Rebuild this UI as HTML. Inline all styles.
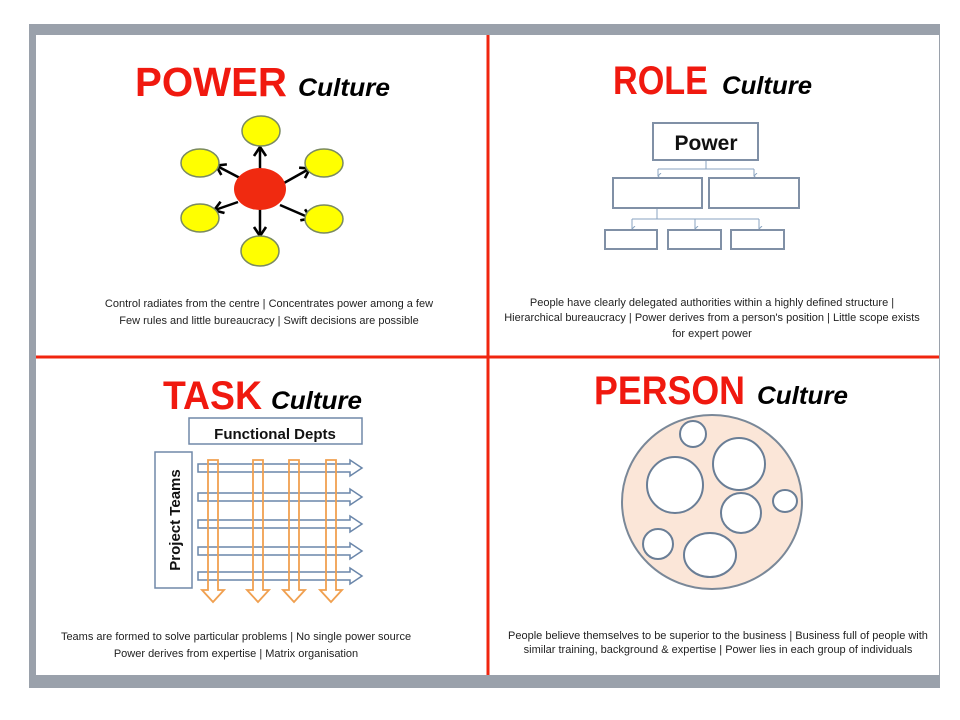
<!DOCTYPE html>
<html><head><meta charset="utf-8"><style>
html,body{margin:0;padding:0;background:#fff;width:960px;height:720px;overflow:hidden}
svg{display:block}
.t{font-family:"Liberation Sans",sans-serif;font-size:11px;fill:#222;text-anchor:middle}
.big{font-family:"Liberation Sans",sans-serif;font-weight:bold;fill:#f0190f}
.cul{font-family:"Liberation Sans",sans-serif;font-weight:bold;font-style:italic;fill:#000}
</style></head><body>
<svg width="960" height="720" viewBox="0 0 960 720" xmlns="http://www.w3.org/2000/svg">
<defs>
<marker id="ah" markerWidth="14" markerHeight="14" refX="9" refY="7" orient="auto" markerUnits="userSpaceOnUse" viewBox="0 0 14 14">
<path d="M1,1 L10,7 L1,13" fill="none" stroke="#000" stroke-width="2.6"/></marker>
<marker id="sa" markerWidth="6" markerHeight="6" refX="3" refY="5" orient="auto" markerUnits="userSpaceOnUse"><path d="M0,2 L3,5 L6,2" fill="none" stroke="#8aa3c0" stroke-width="1"/></marker>
</defs>
<!-- frame -->
<rect x="29" y="24" width="911" height="664" fill="#9aa1ab"/>
<rect x="36" y="35" width="903" height="640" fill="#fff"/>
<line x1="488" y1="35" x2="488" y2="675" stroke="#f0250f" stroke-width="3"/>
<line x1="36" y1="357" x2="939" y2="357" stroke="#f0250f" stroke-width="3"/>

<!-- POWER -->
<text x="135" y="96" class="big" font-size="41" textLength="152" lengthAdjust="spacingAndGlyphs">POWER</text>
<text x="298" y="96" class="cul" font-size="25" textLength="92" lengthAdjust="spacingAndGlyphs">Culture</text>
<g stroke="#000" stroke-width="2.5" marker-end="url(#ah)">
<line x1="260" y1="170" x2="260" y2="148"/>
<line x1="260" y1="209" x2="260" y2="235"/>
<line x1="240" y1="178" x2="217" y2="166"/>
<line x1="284" y1="183" x2="309" y2="169"/>
<line x1="238" y1="202" x2="215" y2="210"/>
<line x1="280" y1="205" x2="310" y2="218"/>
</g>
<g fill="#ffff00" stroke="#7a8a60" stroke-width="1.5">
<ellipse cx="261" cy="131" rx="19" ry="15"/>
<ellipse cx="200" cy="163" rx="19" ry="14"/>
<ellipse cx="324" cy="163" rx="19" ry="14"/>
<ellipse cx="200" cy="218" rx="19" ry="14"/>
<ellipse cx="324" cy="219" rx="19" ry="14"/>
<ellipse cx="260" cy="251" rx="19" ry="15"/>
</g>
<ellipse cx="260" cy="189" rx="26" ry="21" fill="#f02a10"/>
<text class="t" x="269" y="307">Control radiates from the centre | Concentrates power among a few</text>
<text class="t" x="269" y="324">Few rules and little bureaucracy | Swift decisions are possible</text>

<!-- ROLE -->
<text x="613" y="94" class="big" font-size="40" textLength="95" lengthAdjust="spacingAndGlyphs">ROLE</text>
<text x="722" y="94" class="cul" font-size="25" textLength="90" lengthAdjust="spacingAndGlyphs">Culture</text>
<g fill="none" stroke="#8aa3c0" stroke-width="1">
<path d="M706,160 V169 M658,169 H754"/>
<line x1="658" y1="169" x2="658" y2="176" marker-end="url(#sa)"/>
<line x1="754" y1="169" x2="754" y2="176" marker-end="url(#sa)"/>
<path d="M657,209 V219 M632,219 H759"/>
<line x1="632" y1="219" x2="632" y2="229" marker-end="url(#sa)"/>
<line x1="695" y1="219" x2="695" y2="229" marker-end="url(#sa)"/>
<line x1="759" y1="219" x2="759" y2="229" marker-end="url(#sa)"/>
</g>
<g fill="#fff" stroke="#8090a6" stroke-width="2">
<rect x="653" y="123" width="105" height="37"/>
<rect x="613" y="178" width="89" height="30"/>
<rect x="709" y="178" width="90" height="30"/>
<rect x="605" y="230" width="52" height="19"/>
<rect x="668" y="230" width="53" height="19"/>
<rect x="731" y="230" width="53" height="19"/>
</g>
<text x="706" y="150" font-family="Liberation Sans,sans-serif" font-weight="bold" font-size="21" text-anchor="middle" fill="#111">Power</text>
<text class="t" x="712" y="306">People have clearly delegated authorities within a highly defined structure |</text>
<text class="t" x="712" y="321">Hierarchical bureaucracy | Power derives from a person's position | Little scope exists</text>
<text class="t" x="712" y="337">for expert power</text>

<!-- TASK -->
<text x="163" y="409" class="big" font-size="40" textLength="99" lengthAdjust="spacingAndGlyphs">TASK</text>
<text x="271" y="409" class="cul" font-size="25" textLength="91" lengthAdjust="spacingAndGlyphs">Culture</text>
<g fill="#fff" stroke="#6a86aa" stroke-width="1.5">
<path d="M198,464 H350 V460 L362,468 L350,476 V472 H198 Z"/>
<path d="M198,493 H350 V489 L362,497 L350,505 V501 H198 Z"/>
<path d="M198,520 H350 V516 L362,524 L350,532 V528 H198 Z"/>
<path d="M198,547 H350 V543 L362,551 L350,559 V555 H198 Z"/>
<path d="M198,572 H350 V568 L362,576 L350,584 V580 H198 Z"/>
</g>
<g fill="none" stroke="#f0a050" stroke-width="1.8">
<path d="M208,460 H218 V590 H224 L213,602 L202,590 H208 Z"/>
<path d="M253,460 H263 V590 H269 L258,602 L247,590 H253 Z"/>
<path d="M289,460 H299 V590 H305 L294,602 L283,590 H289 Z"/>
<path d="M326,460 H336 V590 H342 L331,602 L320,590 H326 Z"/>
</g>
<rect x="189" y="418" width="173" height="26" fill="#fff" stroke="#7088a8" stroke-width="1.5"/>
<text x="275" y="439" font-family="Liberation Sans,sans-serif" font-weight="bold" font-size="15" text-anchor="middle" fill="#111">Functional Depts</text>
<rect x="155" y="452" width="37" height="136" fill="#fff" stroke="#7088a8" stroke-width="1.5"/>
<text transform="translate(180,520) rotate(-90)" font-family="Liberation Sans,sans-serif" font-weight="bold" font-size="15" text-anchor="middle" fill="#111">Project Teams</text>
<text class="t" x="236" y="640">Teams are formed to solve particular problems | No single power source</text>
<text class="t" x="236" y="657">Power derives from expertise | Matrix organisation</text>

<!-- PERSON -->
<text x="594" y="404" class="big" font-size="40" textLength="151" lengthAdjust="spacingAndGlyphs">PERSON</text>
<text x="757" y="404" class="cul" font-size="25" textLength="91" lengthAdjust="spacingAndGlyphs">Culture</text>
<ellipse cx="712" cy="502" rx="90" ry="87" fill="#fbe6d8" stroke="#7a8898" stroke-width="2"/>
<g fill="#fff" stroke="#6a7e96" stroke-width="2">
<circle cx="693" cy="434" r="13"/>
<circle cx="739" cy="464" r="26"/>
<circle cx="675" cy="485" r="28"/>
<circle cx="741" cy="513" r="20"/>
<ellipse cx="785" cy="501" rx="12" ry="11"/>
<circle cx="658" cy="544" r="15"/>
<ellipse cx="710" cy="555" rx="26" ry="22"/>
</g>
<text class="t" x="718" y="639">People believe themselves to be superior to the business | Business full of people with</text>
<text class="t" x="718" y="653">similar training, background &amp; expertise | Power lies in each group of individuals</text>
</svg>
</body></html>
